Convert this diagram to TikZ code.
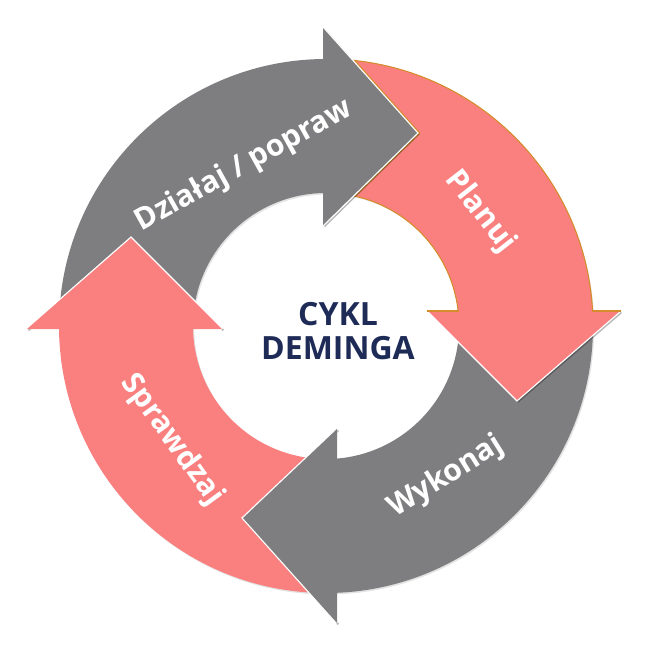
\documentclass[tikz,border=0pt]{standalone}
\usepackage{fontspec}
\setmainfont{Open Sans}
\usetikzlibrary{shadows}
\definecolor{pinkA}{RGB}{250,128,128}
\definecolor{grayA}{RGB}{126,126,128}
\definecolor{orangeA}{RGB}{214,140,44}
\definecolor{navyA}{RGB}{31,43,87}
\tikzset{
  bodyshadow/.style={drop shadow={opacity=0.22, shadow xshift=1.2pt, shadow yshift=-1.5pt}},
  headgap/.style={draw=white, line width=2.6pt, line join=miter},
  headshadow/.style={draw=black, opacity=0.28, line width=2pt, line join=miter},
  lbl/.style={text=white, font=\bfseries\fontsize{30}{32}\selectfont, inner sep=0pt},
  titletext/.style={text=navyA, font=\bfseries\fontsize{32}{34}\selectfont, align=center, inner sep=0pt}
}
\begin{document}
\begin{tikzpicture}[x=1pt, y=-1pt]
\useasboundingbox (0,0) rectangle (647,645);

% ---- ring bodies ----
\begin{scope}[shift={(326,326)}]
  \fill[grayA, bodyshadow] (180:267) arc[start angle=180, end angle=270, radius=267]
     -- (270:133) arc[start angle=270, end angle=180, radius=133] -- cycle;
  \fill[pinkA, bodyshadow] (270:267) arc[start angle=270, end angle=360, radius=267]
     -- (360:133) arc[start angle=360, end angle=270, radius=133] -- cycle;
  \draw[orangeA, line width=1.1pt] (270:267) arc[start angle=270, end angle=360, radius=267]
     -- (360:133) arc[start angle=360, end angle=270, radius=133] -- cycle;
  \fill[grayA, bodyshadow] (0:267) arc[start angle=0, end angle=90, radius=267]
     -- (90:133) arc[start angle=90, end angle=0, radius=133] -- cycle;
  \fill[pinkA, bodyshadow] (90:267) arc[start angle=90, end angle=180, radius=267]
     -- (180:133) arc[start angle=180, end angle=90, radius=133] -- cycle;
\end{scope}

% orange edge of the Planuj tail notch
\begin{scope}
  \clip[shift={(326,326)}] (270:267) arc[start angle=270, end angle=360, radius=267]
     -- (360:133) arc[start angle=360, end angle=270, radius=133] -- cycle;
  \draw[orangeA, line width=5pt, line join=miter] (323,28) -- (417,133) -- (323,225);
\end{scope}

% ---- arrow heads ----
% top (gray, Dzialaj)
\draw[headshadow, shift={(1.3,1.3)}] (323,28) -- (417,133) -- (323,225);
\draw[headgap] (323,28) -- (417,133) -- (323,225);
\fill[grayA] (323,28) -- (417,133) -- (323,225) -- cycle;
% right (pink, Planuj)
\draw[headshadow, shift={(1.3,1.3)}] (428,311) -- (517,400) -- (620,311);
\draw[headgap] (428,311) -- (517,400) -- (620,311);
\fill[pinkA] (428,311) -- (517,400) -- (620,311) -- cycle;
\draw[orangeA, line width=1.3pt] (427,311) -- (459,311);
\draw[orangeA, line width=1.3pt] (592,311) -- (621,311);
% bottom (gray, Wykonaj)
\draw[headshadow, shift={(1.3,1.3)}] (337,429) -- (243,518) -- (337,623);
\draw[headgap] (337,429) -- (243,518) -- (337,623);
\fill[grayA] (337,429) -- (243,518) -- (337,623) -- cycle;
% left (pink, Sprawdzaj)
\draw[headshadow, shift={(1.3,1.3)}] (27,329) -- (131,238) -- (222,329);
\draw[headgap] (27,329) -- (131,238) -- (222,329);
\fill[pinkA] (27,329) -- (131,238) -- (222,329) -- cycle;

% ---- labels ----
\node[lbl, rotate=29] (act) at (244,166) {Działaj / popraw};
\node[lbl, rotate=-52] (plan) at (480,212) {Planuj};
\node[lbl, rotate=32] (do) at (446,477) {Wykonaj};
\node[lbl, rotate=-54] (check) at (172,440) {Sprawdzaj};

\node[titletext] (title) at (338,331) {CYKL\\DEMINGA};
\end{tikzpicture}
\end{document}
